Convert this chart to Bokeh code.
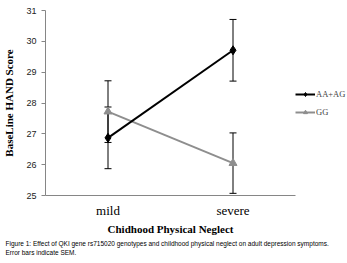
from bokeh.plotting import figure
from bokeh.models import (ColumnDataSource, Range1d, FactorRange, Whisker, TeeHead,
                          Legend, LegendItem, FixedTicker, Title)
from bokeh.embed import file_html
from bokeh.resources import INLINE

categories = ["mild", "severe"]
aa_ag = [26.87, 29.71]
aa_ag_err = [1.0, 1.0]
gg = [27.72, 26.05]
gg_err = [1.0, 0.98]
y_ticks = [25, 26, 27, 28, 29, 30, 31]
caption_line1 = ("Figure 1: Effect of QKI gene rs715020 genotypes and childhood physical neglect "
                 "on adult depression symptoms.")
caption_line2 = "Error bars indicate SEM."

p = figure(frame_width=250, frame_height=185,
           x_range=FactorRange(*categories, range_padding=0),
           y_range=Range1d(25, 31), output_backend="svg", toolbar_location=None,
           min_border_left=42, min_border_right=55, min_border_top=10, min_border_bottom=60)
p.outline_line_color = None
p.xgrid.visible = False
p.ygrid.visible = False

src_a = ColumnDataSource(dict(x=categories, y=aa_ag,
                              lo=[v - e for v, e in zip(aa_ag, aa_ag_err)],
                              hi=[v + e for v, e in zip(aa_ag, aa_ag_err)]))
src_g = ColumnDataSource(dict(x=categories, y=gg,
                              lo=[v - e for v, e in zip(gg, gg_err)],
                              hi=[v + e for v, e in zip(gg, gg_err)]))

for src in (src_g, src_a):
    w = Whisker(source=src, base="x", upper="hi", lower="lo", dimension="height",
                line_color="black", line_width=1,
                upper_head=TeeHead(size=7, line_color="black", line_width=1),
                lower_head=TeeHead(size=7, line_color="black", line_width=1))
    p.add_layout(w)

gl = p.line("x", "y", source=src_g, line_color="#8e8e8e", line_width=2)
gm = p.scatter("x", "y", source=src_g, marker="triangle", size=8,
               fill_color="#8e8e8e", line_color="#8e8e8e")
al = p.line("x", "y", source=src_a, line_color="black", line_width=2)
am = p.scatter("x", "y", source=src_a, marker="diamond", size=9,
               fill_color="black", line_color="black")

legend = Legend(items=[LegendItem(label="AA+AG", renderers=[al, am]),
                       LegendItem(label="GG", renderers=[gl, gm])],
                location="center_left", border_line_color=None, background_fill_alpha=0,
                padding=0, margin=0, spacing=8, glyph_width=20, glyph_height=10,
                label_height=10, label_standoff=1,
                label_text_font="Liberation Serif", label_text_font_size="8.5px")
p.add_layout(legend, "right")

# Y axis
ya = p.yaxis[0]
ya.ticker = FixedTicker(ticks=y_ticks)
ya.axis_line_color = "#868686"
ya.major_tick_line_color = "#868686"
ya.major_tick_in = 0
ya.major_tick_out = 4
ya.minor_tick_line_color = None
ya.major_label_text_font = "Liberation Sans"
ya.major_label_text_font_size = "9px"
ya.major_label_text_color = "#222222"
ya.major_label_standoff = 5
ya.axis_label = "BaseLine HAND Score"
ya.axis_label_text_font = "Liberation Serif"
ya.axis_label_text_font_style = "bold"
ya.axis_label_text_font_size = "11px"
ya.axis_label_text_color = "black"
ya.axis_label_standoff = 8

# X axis
xa = p.xaxis[0]
xa.axis_line_color = "#868686"
xa.major_tick_line_color = None
xa.major_tick_in = 0
xa.major_tick_out = 0
xa.major_label_text_font = "Liberation Serif"
xa.major_label_text_font_size = "13px"
xa.major_label_text_color = "black"
xa.major_label_standoff = 7
xa.axis_label = "Chidhood Physical Neglect"
xa.axis_label_text_font = "Liberation Serif"
xa.axis_label_text_font_style = "bold"
xa.axis_label_text_font_size = "11px"
xa.axis_label_text_color = "black"
xa.axis_label_standoff = 2

for txt in (caption_line1, caption_line2):
    p.add_layout(Title(text=txt, align="left", text_font="Liberation Sans",
                       text_font_size="6.5px", text_font_style="normal",
                       text_color="black", standoff=0, offset=-40), "below")

open("out.html", "w").write(file_html(p, INLINE))
